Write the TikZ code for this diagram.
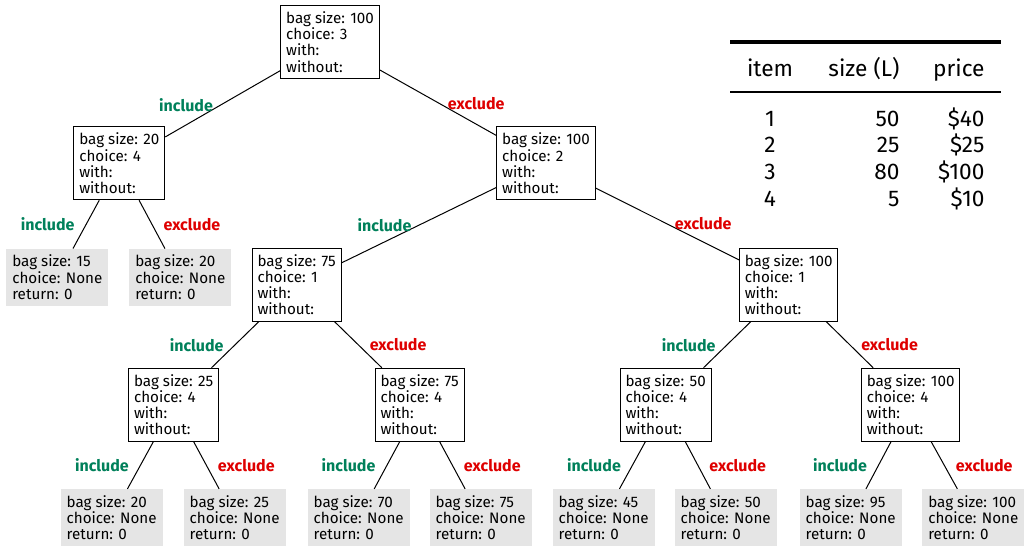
\documentclass[tikz,border=0pt]{standalone}
\usepackage{fontspec}
\setmainfont{Fira Sans}
\usetikzlibrary{positioning}
\definecolor{incgreen}{RGB}{0,128,90}
\definecolor{excred}{RGB}{222,0,0}
\definecolor{leafgray}{RGB}{229,229,229}

\begin{document}
\begin{tikzpicture}[on grid,line width=0.75pt,
  call/.style={draw,fill=white,align=left,inner xsep=4pt,inner ysep=4.5pt,font=\fontsize{11.4}{12.2}\selectfont},
  leaf/.style={fill=leafgray,align=left,inner xsep=4.5pt,inner ysep=4.5pt,font=\fontsize{11.4}{12.2}\selectfont},
  inc/.style={font=\fontsize{12}{14}\selectfont\bfseries,text=incgreen},
  exc/.style={font=\fontsize{12}{14}\selectfont\bfseries,text=excred},
  tabtext/.style={inner sep=0pt,font=\fontsize{17}{20}\selectfont}]
\useasboundingbox (0,0) rectangle (768pt,-410.25pt);
% recursion tree
\node[call] (root) at (247.5pt,-31.5pt) {bag size: 100\\choice: 3\\with:\\without:};
\node[call] (n20)  [below left=91pt and 158pt of root]  {bag size: 20\\choice: 4\\with:\\without:};
\node[call] (n100) [below right=91pt and 162pt of root] {bag size: 100\\choice: 2\\with:\\without:};
\node[leaf] (f15)  [below left=85.5pt and 46.5pt of n20]   {bag size: 15\\choice: None\\return: 0};
\node[leaf] (f20)  [below right=85.5pt and 45.75pt of n20] {bag size: 20\\choice: None\\return: 0};
\node[call] (n75)  [below left=91pt and 187pt of n100]  {bag size: 75\\choice: 1\\with:\\without:};
\node[call] (n100b)[below right=91pt and 182pt of n100] {bag size: 100\\choice: 1\\with:\\without:};
\node[call] (n25)  [below left=90pt and 92.25pt of n75]    {bag size: 25\\choice: 4\\with:\\without:};
\node[call] (n75b) [below right=90pt and 92.25pt of n75]   {bag size: 75\\choice: 4\\with:\\without:};
\node[call] (n50)  [below left=90pt and 92.25pt of n100b]  {bag size: 50\\choice: 4\\with:\\without:};
\node[call] (n100c)[below right=90pt and 91.5pt of n100b]  {bag size: 100\\choice: 4\\with:\\without:};
\node[leaf] (f20b) [below left=84.75pt and 46.5pt of n25]   {bag size: 20\\choice: None\\return: 0};
\node[leaf] (f25)  [below right=84.75pt and 45.75pt of n25] {bag size: 25\\choice: None\\return: 0};
\node[leaf] (f70)  [below left=84.75pt and 45.75pt of n75b] {bag size: 70\\choice: None\\return: 0};
\node[leaf] (f75)  [below right=84.75pt and 45.75pt of n75b]{bag size: 75\\choice: None\\return: 0};
\node[leaf] (f45)  [below left=84.75pt and 46.5pt of n50]   {bag size: 45\\choice: None\\return: 0};
\node[leaf] (f50)  [below right=84.75pt and 45pt of n50]    {bag size: 50\\choice: None\\return: 0};
\node[leaf] (f95)  [below left=84.75pt and 45pt of n100c]   {bag size: 95\\choice: None\\return: 0};
\node[leaf] (f100) [below right=84.75pt and 47pt of n100c]  {bag size: 100\\choice: None\\return: 0};
\path[draw]
          (root)  edge node[inc,pos=0.52,left=2pt]  {include} (n20)
          (root)  edge node[exc,pos=0.52,right=2pt] {exclude} (n100)
          (n20)   edge node[inc,left=5pt]           {include} (f15)
          (n20)   edge node[exc,right=5pt]          {exclude} (f20)
          (n100)  edge node[inc,pos=0.5,left=2pt]   {include} (n75)
          (n100)  edge node[exc,pos=0.5,right=2pt]  {exclude} (n100b)
          (n75)   edge node[inc,left=5pt]           {include} (n25)
          (n75)   edge node[exc,right=5pt]          {exclude} (n75b)
          (n100b) edge node[inc,left=5pt]           {include} (n50)
          (n100b) edge node[exc,right=5pt]          {exclude} (n100c)
          (n25)   edge node[inc,left=5pt]           {include} (f20b)
          (n25)   edge node[exc,right=5pt]          {exclude} (f25)
          (n75b)  edge node[inc,left=5pt]           {include} (f70)
          (n75b)  edge node[exc,right=5pt]          {exclude} (f75)
          (n50)   edge node[inc,left=5pt]           {include} (f45)
          (n50)   edge node[exc,right=5pt]          {exclude} (f50)
          (n100c) edge node[inc,left=5pt]           {include} (f95)
          (n100c) edge node[exc,right=5pt]          {exclude} (f100);
% item table
\draw[line width=3pt] (547.5pt,-31.5pt) -- (750.75pt,-31.5pt);
\draw[line width=1.5pt] (547.5pt,-69pt) -- (750.75pt,-69pt);
\node[tabtext,anchor=base]      (hitem)  at (577.5pt,-57pt)  {item};
\node[tabtext,anchor=base east] (hsize)  at (675pt,-57pt)    {size (L)};
\node[tabtext,anchor=base east] (hprice) at (738.75pt,-57pt) {price};
\foreach \it/\sz/\pr [count=\r] in {1/50/\$40,2/25/\$25,3/80/\$100,4/5/\$10}{
  \node[tabtext,anchor=base]      (item\r)  at (577.5pt,{-74.5pt-20pt*\r})  {\it};
  \node[tabtext,anchor=base east] (size\r)  at (675pt,{-74.5pt-20pt*\r})    {\sz};
  \node[tabtext,anchor=base east] (price\r) at (738.75pt,{-74.5pt-20pt*\r}) {\pr};
}
\end{tikzpicture}
\end{document}
